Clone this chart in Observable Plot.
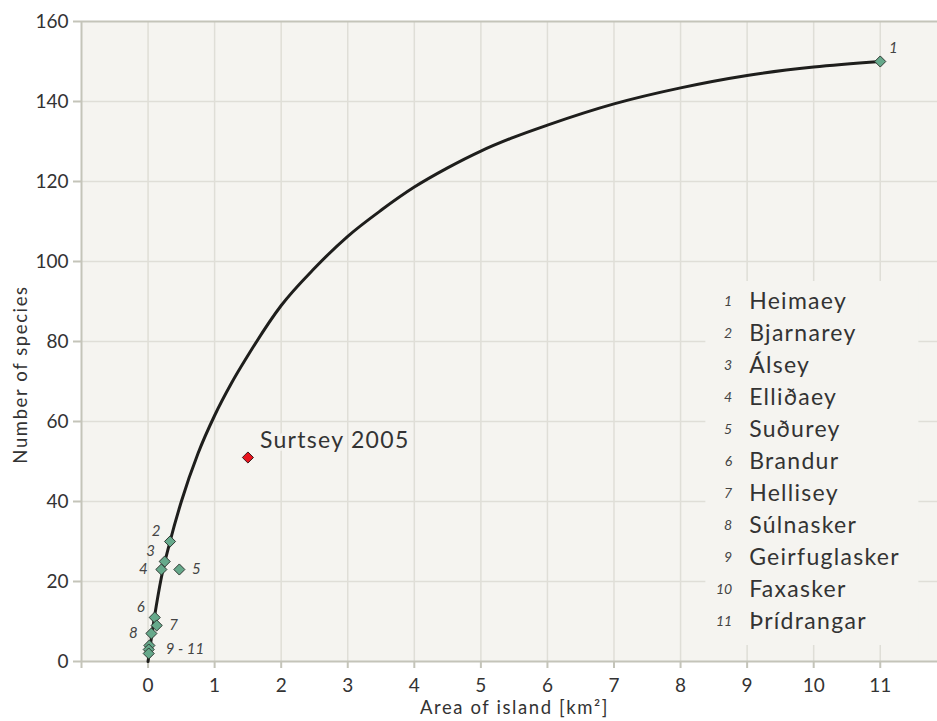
<!DOCTYPE html>
<html>
<head>
<meta charset="utf-8">
<script src="https://cdn.jsdelivr.net/npm/d3@7"></script>
<script src="https://cdn.jsdelivr.net/npm/@observablehq/plot@0.6"></script>
<style>
  html, body { margin: 0; padding: 0; background: #ffffff; }
  #chart svg { display: block; }
  g[aria-description="wide"] text { letter-spacing: 1.3px; }
  g[aria-description="wider"] text { letter-spacing: 1.6px; }
</style>
</head>
<body>
<div id="chart"></div>
<script>
// ---- data ----
const islandNumbers = ["1", "2", "3", "4", "5", "6", "7", "8", "9", "10", "11"];
const islandNames = ["Heimaey", "Bjarnarey", "Álsey", "Elliðaey", "Suðurey", "Brandur",
  "Hellisey", "Súlnasker", "Geirfuglasker", "Faxasker", "Þrídrangar"];
const islandArea = [11, 0.33, 0.25, 0.20, 0.47, 0.10, 0.13, 0.05, 0.02, 0.01, 0.01];
const islandSpecies = [150, 30, 25, 23, 23, 11, 9, 7, 4, 3, 2];

const pointLabels = ["1", "2", "3", "4", "5", "6", "7", "8", "9 - 11"];
const pointLabelIsland = [0, 1, 2, 3, 4, 5, 6, 7, 9];
const pointLabelSide = ["ne", "nw", "nw", "w", "e", "nw", "e", "w", "range"];

const surtseyLabel = ["Surtsey 2005"];
const surtseyArea = [1.5];
const surtseySpecies = [51];

const curveArea = [0, 0.1, 0.2, 0.33, 0.5, 0.75, 1, 1.25, 1.5, 2, 2.5, 3, 3.5, 4, 4.5, 5, 5.5, 6, 7, 8, 9, 10, 11];
const curveSpecies = [0, 11.5, 21, 30, 40, 52, 61.5, 69.5, 76.5, 89, 98.3, 106.3, 112.8, 118.6, 123.4, 127.6, 131.1, 134.1, 139.4, 143.4, 146.5, 148.6, 150];

const xTicks = [-1, 0, 1, 2, 3, 4, 5, 6, 7, 8, 9, 10, 11];
const xTickLabels = ["", "0", "1", "2", "3", "4", "5", "6", "7", "8", "9", "10", "11"];
const yTicks = [0, 20, 40, 60, 80, 100, 120, 140, 160];

const xLabel = "Area of island [km²]";
const yLabel = "Number of species";

// ---- tables ----
const islands = islandNames.map((name, i) => ({
  num: islandNumbers[i], name, area: islandArea[i], species: islandSpecies[i]
}));
const curve = curveArea.map((a, i) => ({area: a, species: curveSpecies[i]}));
const surtsey = surtseyLabel.map((l, i) => ({label: l, area: surtseyArea[i], species: surtseySpecies[i]}));
const labels = pointLabels.map((t, i) => ({
  text: t, side: pointLabelSide[i],
  area: islandArea[pointLabelIsland[i]], species: islandSpecies[pointLabelIsland[i]]
}));

// ---- styles / layout ----
const bg = "#f5f4f0";
const gridColor = "#dfded7";
const axisColor = "#c4c4b9";
const textColor = "#333333";
const legendX = 9, legendTop = 90, legendStep = 8;
const legendRows = islands.map((d, i) => ({...d, lx: legendX, ly: legendTop - i * legendStep}));
const legendBox = [{
  x1: legendX - 0.62, x2: legendX + 2.58,
  y1: legendTop - (islands.length - 1) * legendStep - 6, y2: legendTop + 5
}];

const sideOffsets = {
  ne: {dx: 13, dy: -13, textAnchor: "middle"},
  nw: {dx: -14, dy: -10, textAnchor: "middle"},
  w: {dx: -18, dy: 0, textAnchor: "middle"},
  e: {dx: 17, dy: 0, textAnchor: "middle"},
  range: {dx: 17, dy: 0, textAnchor: "start"}
};
const labelMarks = Object.entries(sideOffsets).map(([side, o]) =>
  Plot.text(labels.filter(d => d.side === side), {
    x: "area", y: "species", text: "text",
    dx: o.dx, dy: o.dy, textAnchor: o.textAnchor,
    fontSize: 15, fontStyle: "italic", fill: "#444"
  })
);

const chart = Plot.plot({
  width: 937,
  height: 721,
  marginLeft: 81,
  marginRight: 0,
  marginTop: 21,
  marginBottom: 60,
  style: {fontFamily: "Lato, 'Open Sans', sans-serif", background: "#ffffff", color: textColor},
  x: {domain: [-1, 11.86]},
  y: {domain: [0, 160]},
  marks: [
    Plot.frame({fill: bg, stroke: null}),
    Plot.gridX({ticks: xTicks.filter(t => t >= 0), stroke: gridColor, strokeOpacity: 1, strokeWidth: 1.5}),
    Plot.gridY({ticks: yTicks.filter(t => t > 0 && t < 160), stroke: gridColor, strokeOpacity: 1, strokeWidth: 1.5}),
    Plot.rect(legendBox, {x1: "x1", x2: "x2", y1: "y1", y2: "y2", fill: bg}),
    Plot.ruleY([160], {stroke: axisColor, strokeWidth: 2}),
    Plot.ruleY([0], {stroke: axisColor, strokeWidth: 2}),
    Plot.ruleX([-1], {stroke: axisColor, strokeWidth: 2}),
    Plot.axisX({
      ticks: xTicks, tickFormat: (d) => xTickLabels[xTicks.indexOf(d)],
      tickSize: 7, tickPadding: 10, stroke: axisColor, strokeWidth: 2,
      fill: textColor, fontSize: 19, label: null
    }),
    Plot.axisY({
      ticks: yTicks, tickSize: 8, tickPadding: 5, stroke: axisColor, strokeWidth: 2,
      fill: textColor, fontSize: 19, label: null
    }),
    Plot.line(curve, {x: "area", y: "species", stroke: "#1e1e1c", strokeWidth: 3, curve: "monotone-x"}),
    Plot.dot(islands, {x: "area", y: "species", symbol: "diamond2", r: 5, fill: "#66a98b", stroke: "#2f3a33", strokeWidth: 1}),
    Plot.dot(surtsey, {x: "area", y: "species", symbol: "diamond2", r: 5, fill: "#e8141f", stroke: "#3a1a1a", strokeWidth: 1}),
    Plot.text(surtsey, {
      x: "area", y: "species", text: "label", dx: 12, dy: -17, textAnchor: "start",
      fontSize: 23, fill: textColor, stroke: bg, strokeWidth: 6, ariaDescription: "wide"
    }),
    ...labelMarks,
    Plot.text(legendRows, {x: "lx", y: "ly", text: "num", dx: -15, textAnchor: "end", fontSize: 14, fontStyle: "italic", fill: "#444"}),
    Plot.text(legendRows, {x: "lx", y: "ly", text: "name", dx: 2, textAnchor: "start", fontSize: 23, fill: textColor, ariaDescription: "wide"}),
    Plot.text([yLabel], {frameAnchor: "left", rotate: -90, dx: -60, dy: 33, fontSize: 18.5, fill: textColor, textAnchor: "middle", ariaDescription: "wider"}),
    Plot.text([xLabel], {frameAnchor: "bottom", dx: 5, dy: 52, fontSize: 18.5, fill: textColor, textAnchor: "middle", ariaDescription: "wider"})
  ]
});
document.getElementById("chart").appendChild(chart);
</script>
</body>
</html>
